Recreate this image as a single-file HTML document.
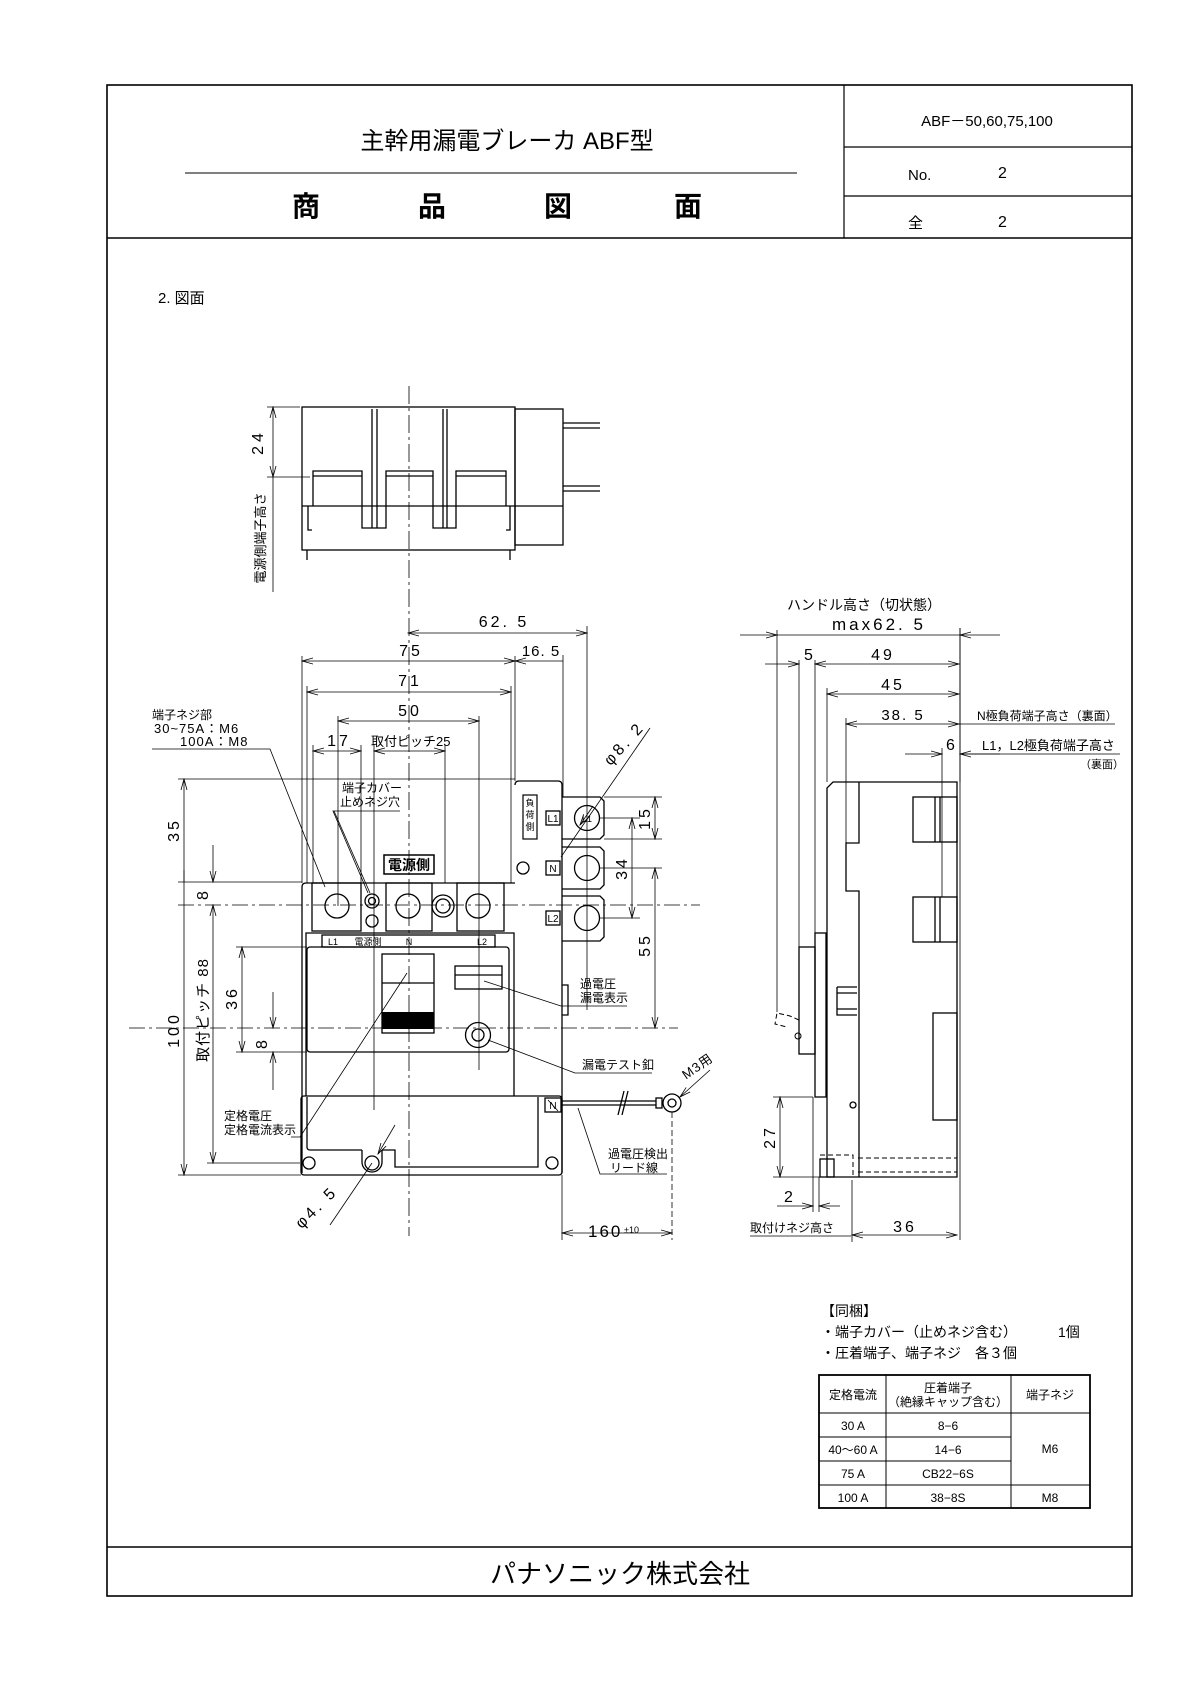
<!DOCTYPE html>
<html><head><meta charset="utf-8"><style>
html,body{margin:0;padding:0;background:#fff}
svg{display:block}
text{font-family:"Liberation Sans","Noto Sans CJK JP",sans-serif;fill:#000}
</style></head><body>
<svg width="1190" height="1684" viewBox="0 0 1190 1684" xmlns="http://www.w3.org/2000/svg">
<defs>
<marker id="a" markerWidth="12" markerHeight="8" refX="11" refY="4" orient="auto-start-reverse" markerUnits="userSpaceOnUse">
<path d="M0,1 L11,4 L0,7" fill="none" stroke="#000" stroke-width="0.8"/></marker>
</defs>
<g fill="none" stroke="#000">
<!-- frame -->
<rect x="107" y="85" width="1025" height="1511" stroke-width="1.6"/>
<line x1="107" y1="238" x2="1132" y2="238" stroke-width="1.6"/>
<line x1="844" y1="85" x2="844" y2="238" stroke-width="1.2"/>
<line x1="844" y1="147" x2="1132" y2="147" stroke-width="1.2"/>
<line x1="844" y1="196" x2="1132" y2="196" stroke-width="1.2"/>
<line x1="185" y1="173" x2="797" y2="173" stroke-width="1"/>
<line x1="107" y1="1547" x2="1132" y2="1547" stroke-width="1.6"/>
</g>
<text x="507" y="149" font-size="24" text-anchor="middle">主幹用漏電ブレーカ ABF型</text>
<g font-size="28" font-weight="bold" text-anchor="middle">
<text x="306" y="216">商</text><text x="432" y="216">品</text><text x="558" y="216">図</text><text x="688" y="216">面</text></g>
<text x="987" y="126" font-size="15" text-anchor="middle">ABF－50,60,75,100</text>
<text x="908" y="180" font-size="15">No.</text><text x="998" y="178" font-size="16">2</text>
<text x="908" y="228" font-size="15">全</text><text x="998" y="227" font-size="16">2</text>
<text x="158" y="303" font-size="15">2. 図面</text>
<text x="620" y="1583" font-size="26" text-anchor="middle">パナソニック株式会社</text>

<!-- ======== TOP VIEW ======== -->
<g fill="none" stroke="#000" stroke-width="1.3">
<rect x="302" y="407" width="213" height="143"/>
<rect x="515" y="409" width="48" height="136"/>
<line x1="302" y1="506" x2="563" y2="506"/>
<path d="M313,506 V471 H362 V528 H386 V471 H433 V528 H456 V471 H506 V506"/>
<line x1="313" y1="476" x2="362" y2="476"/><line x1="386" y1="476" x2="433" y2="476"/><line x1="456" y1="476" x2="506" y2="476"/>
<line x1="372" y1="409" x2="372" y2="528"/><line x1="377" y1="409" x2="377" y2="528"/>
<line x1="443" y1="409" x2="443" y2="528"/><line x1="447" y1="409" x2="447" y2="528"/>
<path d="M308,506 V530 H312 M510,506 V530 H506"/>
<line x1="563" y1="423" x2="600" y2="423"/><line x1="563" y1="428" x2="600" y2="428"/>
<line x1="563" y1="486" x2="600" y2="486"/><line x1="563" y1="491" x2="600" y2="491"/>
<line x1="307" y1="550" x2="307" y2="560"/><line x1="510" y1="550" x2="510" y2="560"/>
</g>
<g stroke="#000" stroke-width="0.8" fill="none">
<line x1="267" y1="407" x2="300" y2="407"/><line x1="267" y1="477" x2="310" y2="477"/>
<line x1="273" y1="407" x2="273" y2="477" marker-start="url(#a)" marker-end="url(#a)"/>
<line x1="273" y1="477" x2="273" y2="592"/>
</g>
<text transform="translate(263,442) rotate(-90)" font-size="16" text-anchor="middle" letter-spacing="4">24</text>
<text transform="translate(265,538) rotate(-90)" font-size="13" text-anchor="middle">電源側端子高さ</text>

<!-- center line -->
<line x1="409" y1="386" x2="409" y2="1236" stroke="#000" stroke-width="0.8" stroke-dasharray="18,4,3,4"/>

<!-- ======== FRONT VIEW ======== -->
<g fill="none" stroke="#000" stroke-width="1.3">
<!-- load side part -->
<path d="M515,785 Q515,781 519,781 H558 Q562,781 562,785 V1173"/>
<path d="M562,797 H600 L604,801 V835 L600,839 H562"/>
<path d="M562,847 H600 L604,851 V885 L600,889 H562"/>
<path d="M562,896 H600 L604,900 V937 L600,941 H562"/>
<circle cx="587" cy="818" r="12.5"/><circle cx="587" cy="868" r="12.5"/><circle cx="587" cy="918" r="12.5"/>
<rect x="546" y="811" width="14" height="14"/><rect x="546" y="861" width="14" height="14"/><rect x="546" y="911" width="14" height="14"/>
<rect x="523" y="795" width="14" height="44" stroke-width="1.2"/>
<circle cx="523" cy="868" r="6"/>
<!-- upper body -->
<path d="M302,1173 V887 Q302,883 306,883 H515"/>
<path d="M306,1096 V933 H514 V1096"/>
<rect x="312" y="883" width="49" height="48"/><rect x="386" y="883" width="46" height="48"/><rect x="457" y="883" width="47" height="48"/>
<circle cx="337" cy="906" r="12"/><circle cx="408" cy="906" r="12"/><circle cx="478" cy="906" r="12"/>
<circle cx="372" cy="901" r="7"/><circle cx="372" cy="901" r="3.5"/><circle cx="372" cy="921" r="6"/>
<circle cx="443" cy="906" r="11"/><circle cx="443" cy="906" r="7"/>
<rect x="384" y="855" width="50" height="19" stroke-width="1.5"/>
<rect x="322" y="935" width="173" height="12"/>
<rect x="307" y="947" width="202" height="105" rx="3"/>
<rect x="382" y="954" width="52" height="79"/>
<line x1="382" y1="983" x2="434" y2="983"/>
<rect x="455" y="966" width="47" height="23"/><line x1="455" y1="975" x2="502" y2="975"/>
<circle cx="478" cy="1035" r="12.5"/><circle cx="478" cy="1035" r="6"/>
<path d="M562,985 H568 V1015 H562"/>
<!-- lower section -->
<rect x="301" y="1096" width="261" height="79" rx="3"/>
<path d="M307,1097 V1147 Q307,1150 310,1150 H362 M382,1150 H395 V1167 H538 V1097"/>
<path d="M362,1150 V1162 A10,10 0 0 0 382,1162 V1150"/>
<circle cx="372" cy="1163" r="7"/>
<circle cx="309" cy="1163" r="6"/><circle cx="552" cy="1163" r="6"/>
<rect x="545" y="1098" width="16" height="14"/><line x1="548" y1="1100" x2="558" y2="1111" stroke-width="0.8"/>
<!-- lead -->
<line x1="562" y1="1101" x2="656" y2="1101"/><line x1="562" y1="1105" x2="656" y2="1105"/>
<line x1="618" y1="1115" x2="624" y2="1091"/><line x1="622" y1="1115" x2="628" y2="1091"/>
<rect x="656" y="1098" width="6" height="10"/>
<circle cx="672" cy="1103" r="9"/><circle cx="672" cy="1103" r="4"/>
</g>
<rect x="382" y="1012" width="52" height="17" fill="#000"/>
<g font-size="9" text-anchor="middle"><text x="587" y="822" font-size="9">L1</text></g>
<g font-size="10" text-anchor="middle">
<text x="553" y="822">L1</text><text x="553" y="872">N</text><text x="553" y="922">L2</text>
<text x="553" y="1109">N</text>
<text x="333" y="945" font-size="9">L1</text><text x="368" y="945" font-size="9">電源側</text><text x="409" y="945" font-size="9">N</text><text x="482" y="945" font-size="9">L2</text>
</g>
<text x="409" y="870" font-size="14" text-anchor="middle" font-weight="bold">電源側</text>
<text x="530" y="806" font-size="9" text-anchor="middle">負</text><text x="530" y="818" font-size="9" text-anchor="middle">荷</text><text x="530" y="830" font-size="9" text-anchor="middle">側</text>

<!-- front view dims -->
<g stroke="#000" stroke-width="0.8" fill="none">
<line x1="408" y1="633" x2="587" y2="633" marker-start="url(#a)" marker-end="url(#a)"/>
<line x1="587" y1="626" x2="587" y2="1010"/>
<line x1="302" y1="656" x2="302" y2="883"/><line x1="515" y1="656" x2="515" y2="781"/>
<line x1="302" y1="661" x2="515" y2="661" marker-start="url(#a)" marker-end="url(#a)"/>
<line x1="515" y1="661" x2="563" y2="661" marker-start="url(#a)"/>
<line x1="563" y1="655" x2="563" y2="797"/>
<line x1="307" y1="686" x2="307" y2="883"/><line x1="511" y1="686" x2="511" y2="883"/>
<line x1="307" y1="692" x2="511" y2="692" marker-start="url(#a)" marker-end="url(#a)"/>
<line x1="338" y1="716" x2="338" y2="906"/><line x1="479" y1="716" x2="479" y2="1070"/>
<line x1="338" y1="721" x2="479" y2="721" marker-start="url(#a)" marker-end="url(#a)"/>
<line x1="313" y1="745" x2="313" y2="883"/><line x1="361" y1="745" x2="361" y2="883"/>
<line x1="313" y1="751" x2="361" y2="751" marker-start="url(#a)" marker-end="url(#a)"/>
<line x1="374" y1="745" x2="374" y2="1110"/><line x1="445" y1="745" x2="445" y2="883"/>
<line x1="374" y1="751" x2="445" y2="751" marker-start="url(#a)" marker-end="url(#a)"/>
<!-- leaders -->
<polyline points="152,749 270,749 325,887"/>
<polyline points="400,811 333,811 368,893"/>
<line x1="334" y1="811" x2="370" y2="893"/>
<!-- left dims -->
<line x1="178" y1="779" x2="515" y2="779"/>
<line x1="178" y1="882" x2="302" y2="882"/>
<line x1="184" y1="779" x2="184" y2="1175" marker-start="url(#a)" marker-end="url(#a)"/>
<line x1="184" y1="882" x2="184" y2="870" />
<line x1="213" y1="845" x2="213" y2="882" marker-end="url(#a)"/>
<line x1="213" y1="905" x2="213" y2="1163" marker-start="url(#a)" marker-end="url(#a)"/>
<line x1="236" y1="947" x2="307" y2="947"/>
<line x1="236" y1="1052" x2="307" y2="1052"/>
<line x1="242" y1="947" x2="242" y2="1052" marker-start="url(#a)" marker-end="url(#a)"/>
<line x1="273" y1="992" x2="273" y2="1028" marker-end="url(#a)"/>
<line x1="273" y1="1090" x2="273" y2="1052" marker-end="url(#a)"/>
<line x1="178" y1="1175" x2="301" y2="1175"/>
<line x1="207" y1="1163" x2="300" y2="1163"/>
<!-- right dims -->
<line x1="604" y1="797" x2="662" y2="797"/><line x1="604" y1="839" x2="662" y2="839"/>
<line x1="655" y1="797" x2="655" y2="839" marker-start="url(#a)" marker-end="url(#a)"/>
<line x1="600" y1="818" x2="640" y2="818"/><line x1="600" y1="918" x2="640" y2="918"/>
<line x1="632" y1="818" x2="632" y2="918" marker-start="url(#a)" marker-end="url(#a)"/>
<line x1="600" y1="868" x2="662" y2="868"/>
<line x1="655" y1="868" x2="655" y2="1028" marker-start="url(#a)" marker-end="url(#a)"/>
<line x1="650" y1="728" x2="561" y2="857"/>
<line x1="593" y1="806" x2="580" y2="825" marker-end="url(#a)"/>
<polyline points="484,981 561,1006 627,1006"/>
<polyline points="488,1040 575,1073 652,1073"/>
<polyline points="291,1137 300,1137 407,973"/>
<polyline points="578,1108 600,1174 667,1174"/>
<line x1="710" y1="1070" x2="680" y2="1097" marker-end="url(#a)"/>
<line x1="372" y1="1163" x2="330" y2="1225"/>
<line x1="395" y1="1125" x2="378" y2="1154" marker-end="url(#a)"/>
<line x1="562" y1="1175" x2="562" y2="1240"/>
<line x1="672" y1="1112" x2="672" y2="1240" stroke-dasharray="6,3"/>
<line x1="562" y1="1233" x2="672" y2="1233" marker-start="url(#a)" marker-end="url(#a)"/>
</g>
<line x1="178" y1="905" x2="700" y2="905" stroke="#000" stroke-width="0.7" stroke-dasharray="16,4,3,4"/>
<line x1="129" y1="1028" x2="678" y2="1028" stroke="#000" stroke-width="0.7" stroke-dasharray="16,4,3,4"/>

<g font-size="16" letter-spacing="3" text-anchor="middle">
<text x="504" y="627">62. 5</text>
<text x="411" y="656">75</text>
<text x="541" y="656" font-size="15" letter-spacing="1">16. 5</text>
<text x="410" y="686">71</text>
<text x="410" y="716">50</text>
<text x="339" y="746">17</text>
</g>
<text x="371" y="746" font-size="13">取付ピッチ25</text>
<text x="152" y="719" font-size="12">端子ネジ部</text>
<text x="154" y="733" font-size="13" letter-spacing="1">30~75A：M6</text>
<text x="180" y="746" font-size="13" letter-spacing="1">100A：M8</text>
<text x="342" y="792" font-size="12">端子カバー</text>
<text x="340" y="806" font-size="12">止めネジ穴</text>
<g font-size="16" letter-spacing="3" text-anchor="middle">
<text transform="translate(179,830) rotate(-90)">35</text>
<text transform="translate(208,894) rotate(-90)">8</text>
<text transform="translate(179,1030) rotate(-90)">100</text>
<text transform="translate(208,1010) rotate(-90)" font-size="15" letter-spacing="1">取付ピッチ 88</text>
<text transform="translate(237,998) rotate(-90)">36</text>
<text transform="translate(267,1043) rotate(-90)">8</text>
<text transform="translate(650,818) rotate(-90)">15</text>
<text transform="translate(627,868) rotate(-90)">34</text>
<text transform="translate(650,945) rotate(-90)">55</text>
<text transform="translate(628,747) rotate(-48)">φ8. 2</text>
<text transform="translate(320,1211) rotate(-45)">φ4. 5</text>
<text transform="translate(700,1070) rotate(-35)" font-size="13" letter-spacing="1">M3用</text>
</g>
<text x="580" y="988" font-size="12">過電圧</text>
<text x="580" y="1002" font-size="12">漏電表示</text>
<text x="582" y="1069" font-size="12">漏電テスト釦</text>
<text x="224" y="1120" font-size="12">定格電圧</text>
<text x="224" y="1134" font-size="12">定格電流表示</text>
<text x="608" y="1158" font-size="12">過電圧検出</text>
<text x="610" y="1172" font-size="12">リード線</text>
<text x="588" y="1237" font-size="17" letter-spacing="2">160</text><text x="624" y="1233" font-size="9">±10</text>

<!-- ======== SIDE VIEW ======== -->
<g fill="none" stroke="#000" stroke-width="1.3">
<path d="M827,1177 V788 L833,782 H957 V1177 Z"/>
<path d="M859,782 V843 H846 V891 H859 V1177"/>
<rect x="913" y="797" width="44" height="45"/><line x1="935" y1="797" x2="935" y2="842"/><line x1="940" y1="797" x2="940" y2="842"/>
<rect x="913" y="897" width="44" height="45"/><line x1="935" y1="897" x2="935" y2="942"/><line x1="940" y1="897" x2="940" y2="942"/>
<rect x="933" y="1013" width="24" height="107"/>
<rect x="815" y="933" width="11" height="164"/>
<rect x="799" y="947" width="16" height="107"/>
<path d="M837,987 H857 M837,993 H857 M837,1009 H857 M837,987 V1015 H857"/>
<circle cx="853" cy="1105" r="3"/>
<rect x="820" y="1159" width="14" height="18"/>
</g>
<g fill="none" stroke="#000" stroke-width="1" stroke-dasharray="5,3">
<path d="M820,1155 H853 V1177"/>
<line x1="858" y1="1158" x2="957" y2="1158"/><line x1="858" y1="1172" x2="957" y2="1172"/>
<path d="M799,1020 L790,1016 L777,1013 L775,1024 L787,1027"/>
</g>
<circle cx="798" cy="1036" r="3" fill="none" stroke="#000"/>
<g stroke="#000" stroke-width="0.8" fill="none">
<line x1="777" y1="630" x2="777" y2="1012"/><line x1="960" y1="628" x2="960" y2="782"/>
<line x1="740" y1="635" x2="777" y2="635" marker-end="url(#a)"/><line x1="1000" y1="635" x2="960" y2="635" marker-end="url(#a)"/>
<line x1="777" y1="635" x2="960" y2="635"/>
<line x1="799" y1="660" x2="799" y2="947"/><line x1="815" y1="660" x2="815" y2="933"/>
<line x1="765" y1="664" x2="799" y2="664" marker-end="url(#a)"/>
<line x1="815" y1="664" x2="959" y2="664" marker-start="url(#a)" marker-end="url(#a)"/>
<line x1="827" y1="688" x2="827" y2="782"/>
<line x1="827" y1="694" x2="959" y2="694" marker-start="url(#a)" marker-end="url(#a)"/>
<line x1="846" y1="718" x2="846" y2="843"/>
<line x1="846" y1="724" x2="959" y2="724" marker-start="url(#a)" marker-end="url(#a)"/>
<line x1="959" y1="724" x2="1115" y2="724"/>
<line x1="942" y1="748" x2="942" y2="897"/>
<line x1="905" y1="754" x2="942" y2="754" marker-end="url(#a)"/>
<line x1="1000" y1="754" x2="960" y2="754" marker-end="url(#a)"/>
<line x1="960" y1="754" x2="1120" y2="754"/>
<line x1="960" y1="628" x2="960" y2="1240"/>
<line x1="773" y1="1097" x2="813" y2="1097"/><line x1="773" y1="1177" x2="827" y2="1177"/>
<line x1="780" y1="1097" x2="780" y2="1177" marker-start="url(#a)" marker-end="url(#a)"/>
<line x1="813" y1="1097" x2="813" y2="1212"/><line x1="819" y1="1177" x2="819" y2="1212"/>
<line x1="777" y1="1206" x2="813" y2="1206" marker-end="url(#a)"/><line x1="840" y1="1206" x2="819" y2="1206" marker-end="url(#a)"/>
<line x1="852" y1="1180" x2="852" y2="1242"/>
<line x1="852" y1="1235" x2="957" y2="1235" marker-start="url(#a)" marker-end="url(#a)"/>
<line x1="750" y1="1236" x2="851" y2="1236"/>
</g>
<text x="787" y="610" font-size="14">ハンドル高さ（切状態）</text>
<text x="832" y="630" font-size="17" letter-spacing="3">max62. 5</text>
<g font-size="16" letter-spacing="3" text-anchor="middle">
<text x="810" y="660">5</text><text x="883" y="660">49</text><text x="893" y="690">45</text>
<text x="903" y="720" font-size="15" letter-spacing="2">38. 5</text><text x="952" y="750">6</text>
<text transform="translate(775,1137) rotate(-90)">27</text>
<text x="790" y="1202">2</text>
<text x="905" y="1232">36</text>
</g>
<text x="977" y="720" font-size="12">N極負荷端子高さ（裏面）</text>
<text x="982" y="750" font-size="13">L1，L2極負荷端子高さ</text>
<text x="1080" y="768" font-size="11">（裏面）</text>
<text x="750" y="1232" font-size="12">取付けネジ高さ</text>

<!-- ======== TABLE ======== -->
<text x="821" y="1316" font-size="14">【同梱】</text>
<text x="821" y="1337" font-size="14">・端子カバー（止めネジ含む）</text><text x="1058" y="1337" font-size="14">1個</text>
<text x="821" y="1358" font-size="14">・圧着端子、端子ネジ　各３個</text>
<g fill="none" stroke="#000">
<rect x="819" y="1375" width="271" height="133" stroke-width="1.8"/>
<line x1="886" y1="1375" x2="886" y2="1508"/><line x1="1011" y1="1375" x2="1011" y2="1508"/>
<line x1="819" y1="1413" x2="1090" y2="1413"/>
<line x1="819" y1="1437" x2="1011" y2="1437"/><line x1="819" y1="1461" x2="1011" y2="1461"/>
<line x1="819" y1="1485" x2="1090" y2="1485"/>
</g>
<g font-size="12" text-anchor="middle">
<text x="853" y="1399">定格電流</text>
<text x="948" y="1392">圧着端子</text><text x="948" y="1406">（絶縁キャップ含む）</text>
<text x="1050" y="1399">端子ネジ</text>
<text x="853" y="1430">30 A</text><text x="948" y="1430">8−6</text>
<text x="853" y="1454">40～60 A</text><text x="948" y="1454">14−6</text>
<text x="853" y="1478">75 A</text><text x="948" y="1478">CB22−6S</text>
<text x="853" y="1502">100 A</text><text x="948" y="1502">38−8S</text>
<text x="1050" y="1453">M6</text><text x="1050" y="1502">M8</text>
</g>
</svg>
</body></html>
